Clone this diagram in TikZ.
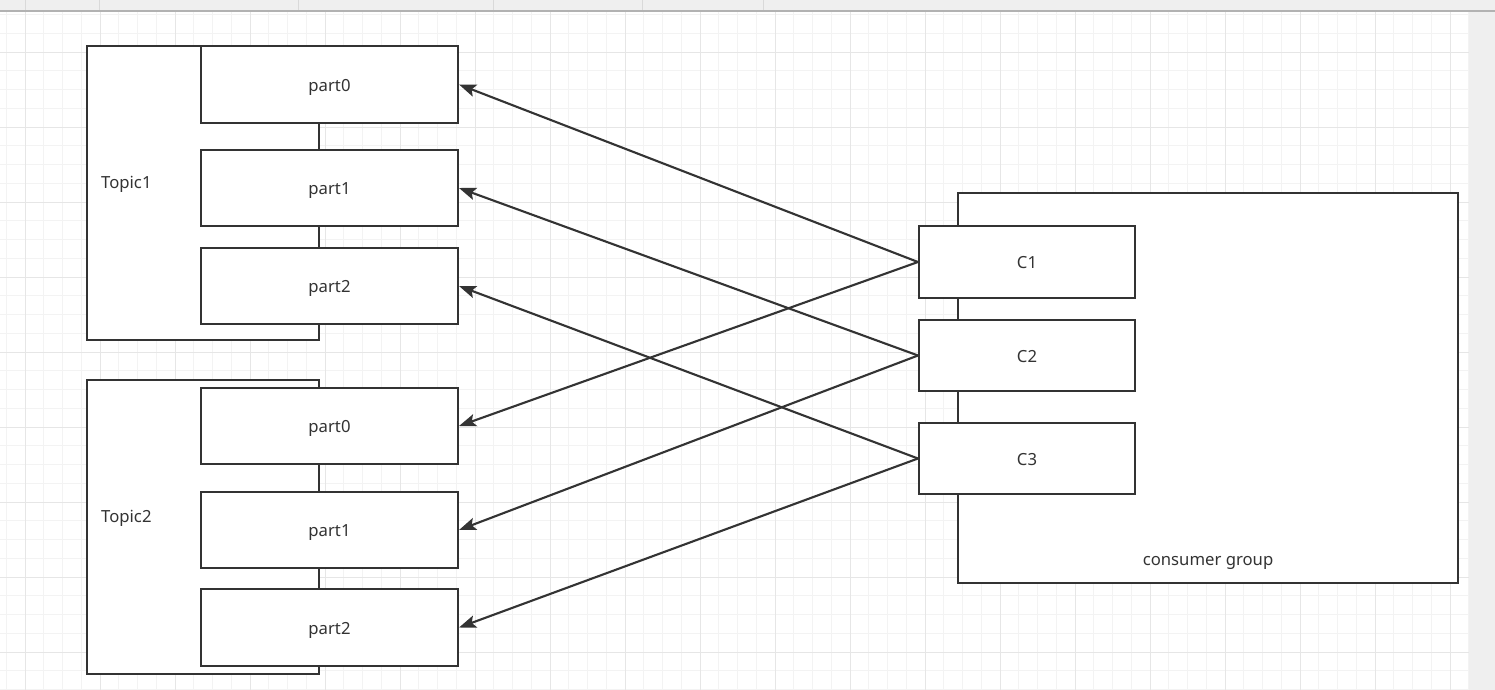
\documentclass[tikz,border=0pt]{standalone}
\usepackage{fontspec}
\setmainfont{Noto Sans}
\usepackage{xcolor}
\usetikzlibrary{arrows.meta,positioning}

\definecolor{ink}{HTML}{333333}
\definecolor{gridminor}{HTML}{F3F3F3}
\definecolor{gridmajor}{HTML}{E6E6E6}
\definecolor{chrome}{HTML}{EFEFEF}

\begin{document}
\begin{tikzpicture}[
    x=0.02cm,
    y=-0.02cm,
    >={Stealth[length=0.34cm,width=0.25cm,inset=0.07cm]},
    font=\fontsize{9.5pt}{11pt}\selectfont,
    every node/.style={text=ink},
    box/.style={draw=ink,line width=1.2pt,fill=white,inner sep=0pt,
        text height=7.6pt,text depth=0pt},
    topicbox/.style={box,minimum width=4.64cm,minimum height=5.88cm},
    partbox/.style={box,minimum width=5.14cm,minimum height=1.53cm},
    groupbox/.style={box,minimum width=10cm,minimum height=7.8cm},
    consbox/.style={box,minimum width=4.32cm,minimum height=1.43cm},
    assign/.style={->,draw=ink,line width=1.2pt},
    minorline/.style={draw=gridminor,line width=0.5pt},
    majorline/.style={draw=gridmajor,line width=0.5pt}
]

\useasboundingbox (0,0) rectangle (1495,690);
\fill[white] (0,0) rectangle (1495,690);

% ---------------------------------------------------------
% Canvas grid
% ---------------------------------------------------------

\foreach \gx in {6.25,25,...,1469}
    \draw[minorline] (\gx,11) -- (\gx,690);
\foreach \gy in {14.5,33.25,...,690}
    \draw[minorline] (0,\gy) -- (1469,\gy);
\foreach \gx in {25,100,...,1469}
    \draw[majorline] (\gx,11) -- (\gx,690);
\foreach \gy in {52,127,...,690}
    \draw[majorline] (0,\gy) -- (1469,\gy);

% Window chrome
\fill[chrome] (1469,11) rectangle (1495,690);
\fill[chrome] (0,0) rectangle (1495,11);
\draw[gray!60,line width=0.6pt] (0,11) -- (1495,11);
\foreach \sx in {25,99,298,493,642,763}
    \draw[gray!30,line width=0.5pt] (\sx,0) -- (\sx,10);

% ---------------------------------------------------------
% Topic1
% ---------------------------------------------------------

\node[topicbox] (topic1) at (203,193) {};
\node[anchor=west] (topic1label) at (95,184) {Topic1};

\node[partbox] (t1p0) at (329.5,84.5) {part0};
\node[partbox] (t1p1) at (329.5,188) {part1};
\node[partbox] (t1p2) at (329.5,286) {part2};

% ---------------------------------------------------------
% Topic2
% ---------------------------------------------------------

\node[topicbox] (topic2) at (203,527) {};
\node[anchor=west] (topic2label) at (95,518) {Topic2};

\node[partbox] (t2p0) at (329.5,426) {part0};
\node[partbox] (t2p1) at (329.5,530) {part1};
\node[partbox] (t2p2) at (329.5,627.5) {part2};

% ---------------------------------------------------------
% Consumer group
% ---------------------------------------------------------

\node[groupbox] (group) at (1208,388) {};
\node (grouplabel) at (1208,563) {consumer group};

\node[consbox] (c1) at (1027,262) {C1};
\node[consbox] (c2) at (1027,355.5) {C2};
\node[consbox] (c3) at (1027,458.5) {C3};

% ---------------------------------------------------------
% Partition assignment
% ---------------------------------------------------------

\draw[assign] (c1.west) -- (t1p0.east);
\draw[assign] (c1.west) -- (t2p0.east);
\draw[assign] (c2.west) -- (t1p1.east);
\draw[assign] (c2.west) -- (t2p1.east);
\draw[assign] (c3.west) -- (t1p2.east);
\draw[assign] (c3.west) -- (t2p2.east);

\end{tikzpicture}
\end{document}
